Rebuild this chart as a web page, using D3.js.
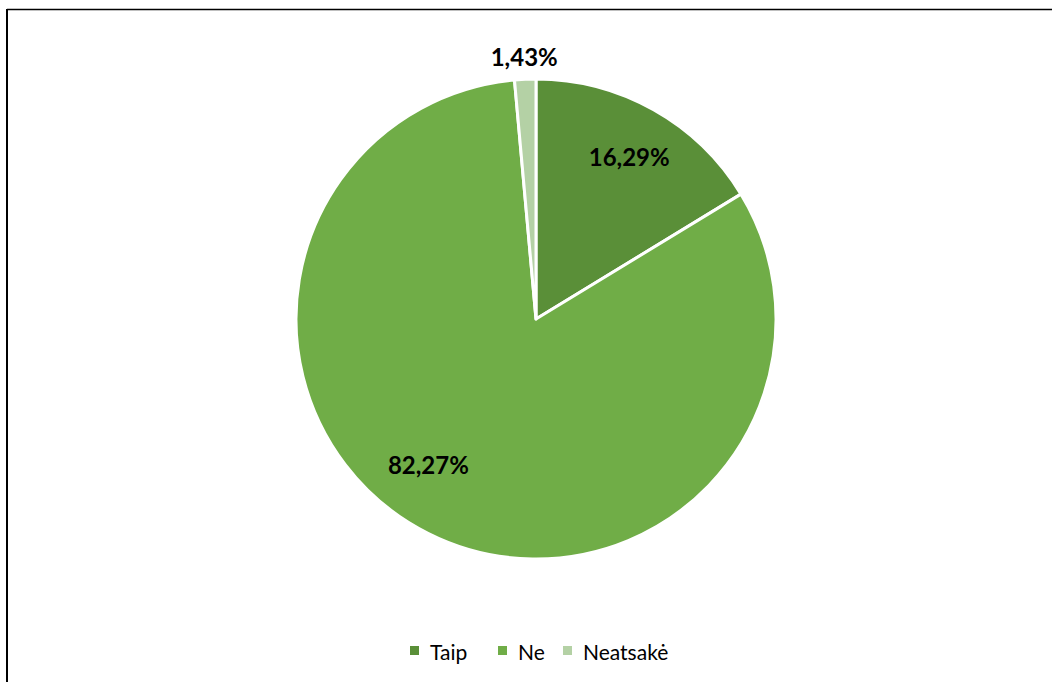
<!DOCTYPE html>
<html><head><meta charset="utf-8">
<script src="https://cdn.jsdelivr.net/npm/d3@7"></script>
<style>html,body{margin:0;padding:0;background:#fff;}svg{display:block;}</style>
</head><body>
<svg id="chart" width="1052" height="682"></svg>
<script>
const categories = ["Taip", "Ne", "Neatsakė"];
const values = [16.29, 82.27, 1.43];
const labels = ["16,29%", "82,27%", "1,43%"];
const colors = ["#5a8f38", "#70ad47", "#b4d1a5"];

const svg = d3.select("#chart");
const W = 1052, H = 682;
// border
svg.append("line").attr("x1", 7).attr("y1", 9.5).attr("x2", W).attr("y2", 9.5).attr("stroke", "#000").attr("stroke-width", 1.5);
svg.append("line").attr("x1", 7).attr("y1", 9).attr("x2", 7).attr("y2", H).attr("stroke", "#000").attr("stroke-width", 2);

const cx = 536, cy = 319, R = 240;
const data = categories.map((c, i) => ({cat: c, value: values[i], label: labels[i], color: colors[i]}));
const pie = d3.pie().sort(null).value(d => d.value);
const arcs = pie(data);
const arc = d3.arc().innerRadius(0).outerRadius(R);
const g = svg.append("g").attr("transform", `translate(${cx},${cy})`);
g.selectAll("path").data(arcs).join("path")
  .attr("d", arc).attr("fill", d => d.data.color)
  .attr("stroke", "#fff").attr("stroke-width", 3).attr("stroke-linejoin", "round");

// label placement (best-fit style)
const labelPos = (d, i) => {
  const mid = (d.startAngle + d.endAngle) / 2;
  let a = mid, r;
  if (d.endAngle - d.startAngle < 0.2) { r = R + 23; }
  else if (d.endAngle - d.startAngle > Math.PI) { a = mid + 0.17; r = 181; }
  else { a = mid + 0.01; r = 187; }
  return [Math.sin(a) * r, -Math.cos(a) * r];
};
g.selectAll("text.lbl").data(arcs).join("text").attr("class", "lbl")
  .attr("x", (d, i) => labelPos(d, i)[0]).attr("y", (d, i) => labelPos(d, i)[1])
  .attr("text-anchor", "middle").attr("dominant-baseline", "central")
  .attr("font-family", "Lato, 'Open Sans', sans-serif").attr("font-weight", "bold")
  .attr("font-size", 24).attr("fill", "#000").text(d => d.data.label);

// legend
const legend = svg.append("g").attr("font-family", "Lato, 'Open Sans', sans-serif").attr("font-size", 21);
const lx = [410, 498, 563];
data.forEach((d, i) => {
  legend.append("rect").attr("x", lx[i]).attr("y", 646).attr("width", 9).attr("height", 9).attr("fill", d.color);
  legend.append("text").attr("x", lx[i] + 20).attr("y", 651).attr("dominant-baseline", "central").attr("fill", "#000").text(d.cat);
});
</script>
</body></html>
